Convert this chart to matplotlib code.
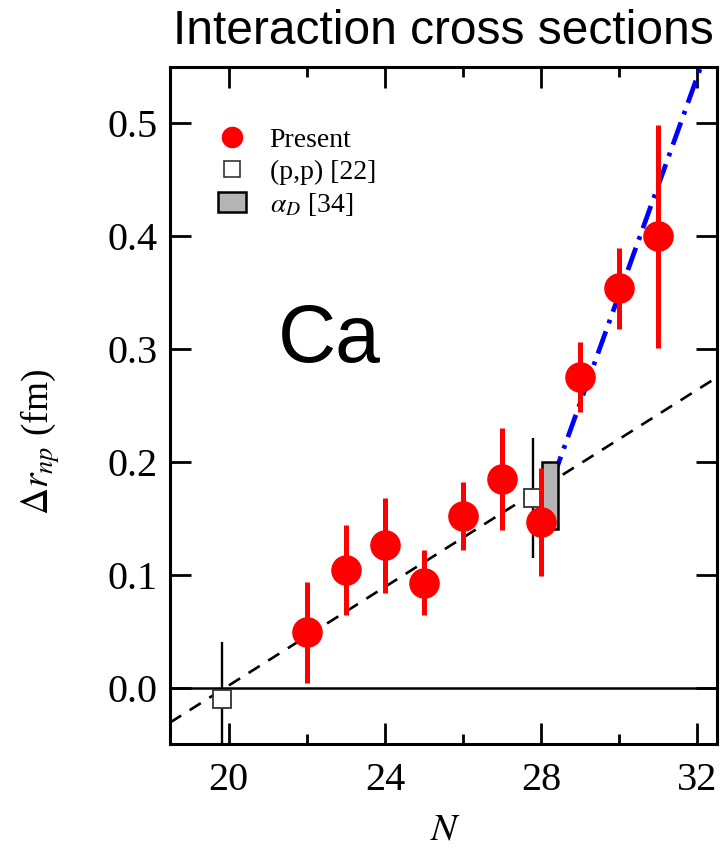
import matplotlib
matplotlib.use("Agg")
import matplotlib.pyplot as plt
from matplotlib.lines import Line2D
from matplotlib.patches import Patch, Rectangle
from matplotlib.ticker import MultipleLocator, FormatStrFormatter

# Data
N_present = [22, 23, 24, 25, 26, 27, 28, 29, 30, 31]
dr_present = [0.049, 0.104, 0.126, 0.093, 0.152, 0.185, 0.147, 0.275, 0.354, 0.400]
err_present = [0.045, 0.040, 0.042, 0.029, 0.030, 0.045, 0.048, 0.031, 0.036, 0.099]

N_pp = [19.84, 27.79]
dr_pp = [-0.010, 0.168]
err_pp = [0.050, 0.053]

alphaD_N = [28.02, 28.44]
alphaD_dr = [0.141, 0.200]

fit_N = [18.5, 32.5]
fit_dr = [-0.031, 0.275]
kink_N = [28.3, 32.5]
kink_dr = [0.185, 0.590]

plt.rcParams["font.family"] = ["Liberation Serif", "DejaVu Serif"]
plt.rcParams["mathtext.fontset"] = "stix"

fig = plt.figure(figsize=(7.2, 8.55), dpi=100)
ax = fig.add_axes([0.2361, 0.1298, 0.7597, 0.7918])

# lines
ax.plot(fit_N, fit_dr, color="black", lw=1.9, ls=(0, (5, 3.8)), zorder=1)
ax.plot(kink_N, kink_dr, color="#0000ff", lw=3.4, ls=(0, (5, 1.8, 0.8, 1.8)), zorder=2)
ax.axhline(0, color="black", lw=1.8, zorder=1)

# alpha_D box
ax.add_patch(Rectangle((alphaD_N[0], alphaD_dr[0]), alphaD_N[1] - alphaD_N[0],
                       alphaD_dr[1] - alphaD_dr[0], facecolor="#b4b4b4",
                       edgecolor="black", lw=1.8, zorder=3))

# (p,p)
ax.errorbar(N_pp, dr_pp, yerr=err_pp, fmt="s", ms=12.5, mfc="white", mec="#333333",
            mew=1.3, ecolor="black", elinewidth=1.7, capsize=0, zorder=4)

# present
ax.errorbar(N_present, dr_present, yerr=err_present, fmt="o", ms=21, color="#ff0000",
            ecolor="#ff0000", elinewidth=3.6, capsize=0, zorder=5)

ax.set_xlim(18.5, 32.5)
ax.set_ylim(-0.05, 0.55)
ax.xaxis.set_major_locator(MultipleLocator(4))
ax.xaxis.set_minor_locator(MultipleLocator(2))
ax.yaxis.set_major_locator(MultipleLocator(0.1))
ax.yaxis.set_major_formatter(FormatStrFormatter("%.1f"))
ax.tick_params(which="both", direction="in", top=True, right=True, width=2.0, labelsize=29)
ax.tick_params(which="major", length=15)
ax.tick_params(which="minor", length=7.5)
ax.tick_params(axis="y", pad=9)
ax.tick_params(axis="x", pad=13)
for s in ax.spines.values():
    s.set_linewidth(2.2)

ax.set_xlabel("$N$", fontsize=28, va="center")
ax.xaxis.set_label_coords(0.5046, -0.127)
ax.set_ylabel(r"$\Delta r_{np}$ (fm)", fontsize=27, va="center")
ax.yaxis.set_label_coords(-0.238, 0.446)

handles = [
    Line2D([], [], ls="none", marker="o", ms=14.5, color="#ff0000"),
    Line2D([], [], ls="none", marker="s", ms=11, mfc="white", mec="#333333", mew=1.2),
    Patch(facecolor="#b4b4b4", edgecolor="black", lw=1.8),
]
labels = ["Present", "(p,p) [22]", r"$\alpha_D$ [34]"]
ax.legend(handles, labels, loc="upper left", bbox_to_anchor=(0.088, 0.9105),
          frameon=False, fontsize=20, handlelength=1.0, handletextpad=0.85,
          labelspacing=0.22, borderpad=0, borderaxespad=0)

ax.text(0.197, 0.564, "Ca", transform=ax.transAxes, fontsize=58,
        family=["Liberation Sans", "DejaVu Sans"], va="baseline")
fig.text(0.240, 1 - 44 / 855, "Interaction cross sections", fontsize=34.5,
         family=["Liberation Sans", "DejaVu Sans"], va="baseline")

fig.savefig("out.png", dpi=100)
